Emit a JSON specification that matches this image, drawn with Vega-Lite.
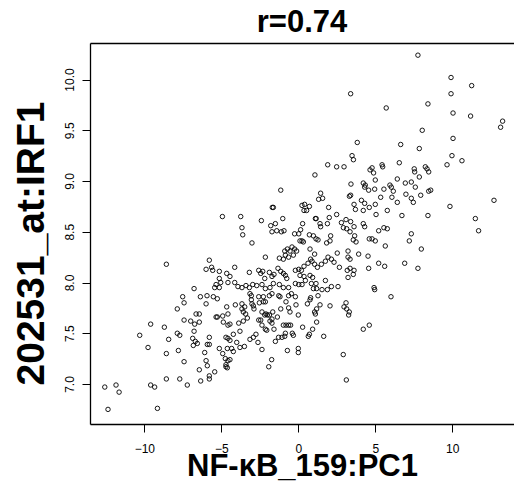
{
"$schema": "https://vega.github.io/schema/vega-lite/v6.json",
"width": 424, "height": 381,
"autosize": "none",
"padding": {"left": 90, "top": 43, "right": 0, "bottom": 63},
"background": "white",
"title": {"text": "r=0.74", "fontSize": 31, "font": "Liberation Sans", "fontWeight": "bold", "color": "black", "anchor": "middle", "offset": 4},
"data": {"values": [
{"x":1.91,"y":9.16},{"x":2.49,"y":9.14},{"x":2.97,"y":9.14},{"x":3.40,"y":9.86},{"x":3.83,"y":9.38},{"x":3.49,"y":9.25},{"x":3.58,"y":9.21},{"x":4.66,"y":9.11},
{"x":7.77,"y":10.24},{"x":9.92,"y":10.02},{"x":11.26,"y":9.94},{"x":9.92,"y":9.86},{"x":5.71,"y":9.72},{"x":8.42,"y":9.76},{"x":10.05,"y":9.67},{"x":11.19,"y":9.64},{"x":13.27,"y":9.59},{"x":13.14,"y":9.53},{"x":8.05,"y":9.50},{"x":10.05,"y":9.42},{"x":6.65,"y":9.36},{"x":7.86,"y":9.32},{"x":9.98,"y":9.25},{"x":10.63,"y":9.20},{"x":6.56,"y":9.18},{"x":5.44,"y":9.16},{"x":5.48,"y":9.14},{"x":4.79,"y":9.13},{"x":8.25,"y":9.14},{"x":8.36,"y":9.12},{"x":7.53,"y":9.12},{"x":9.66,"y":9.16},
{"x":4.89,"y":9.08},{"x":5.00,"y":9.01},{"x":4.96,"y":8.92},{"x":5.56,"y":8.92},{"x":6.04,"y":8.94},{"x":5.95,"y":8.96},{"x":6.43,"y":9.02},{"x":6.95,"y":8.98},{"x":7.34,"y":8.99},{"x":7.60,"y":8.94},{"x":7.86,"y":9.04},{"x":7.56,"y":9.09},{"x":8.47,"y":9.09},{"x":5.35,"y":8.84},{"x":6.08,"y":8.84},{"x":6.43,"y":8.79},{"x":6.17,"y":8.90},{"x":6.99,"y":8.87},{"x":7.34,"y":8.83},{"x":7.47,"y":8.79},{"x":7.95,"y":8.86},{"x":8.60,"y":8.91},{"x":8.47,"y":8.90},{"x":9.85,"y":8.75},{"x":12.71,"y":8.81},{"x":11.50,"y":8.63},{"x":11.71,"y":8.51},{"x":5.00,"y":8.77},{"x":5.05,"y":8.67},{"x":5.78,"y":8.71},{"x":6.73,"y":8.66},{"x":8.42,"y":8.66},{"x":5.22,"y":8.51},{"x":5.56,"y":8.54},{"x":5.78,"y":8.53},{"x":4.79,"y":8.43},{"x":5.00,"y":8.41},{"x":7.34,"y":8.48},{"x":7.21,"y":8.41},{"x":7.99,"y":8.33},{"x":5.65,"y":8.36},{"x":5.22,"y":8.19},{"x":5.61,"y":8.16},{"x":6.91,"y":8.19},{"x":7.77,"y":8.14},{"x":4.92,"y":7.95},{"x":4.96,"y":7.93},{"x":6.02,"y":7.86},
{"x":1.08,"y":9.06},{"x":3.42,"y":8.97},{"x":4.22,"y":8.98},{"x":4.35,"y":8.96},{"x":4.31,"y":8.94},{"x":4.57,"y":8.91},{"x":-1.14,"y":8.91},{"x":1.45,"y":8.88},{"x":1.32,"y":8.82},{"x":1.58,"y":8.83},{"x":3.32,"y":8.85},{"x":3.40,"y":8.86},{"x":3.62,"y":8.77},{"x":4.10,"y":8.81},{"x":4.31,"y":8.78},{"x":-1.69,"y":8.74},{"x":-1.62,"y":8.74},{"x":0.24,"y":8.76},{"x":0.41,"y":8.77},{"x":0.72,"y":8.75},{"x":0.37,"y":8.71},{"x":0.54,"y":8.71},{"x":1.97,"y":8.74},{"x":3.71,"y":8.72},{"x":4.22,"y":8.71},{"x":4.61,"y":8.74},{"x":2.49,"y":8.67},{"x":2.01,"y":8.64},{"x":-3.74,"y":8.65},{"x":-2.40,"y":8.61},{"x":-1.01,"y":8.63},{"x":1.11,"y":8.63},{"x":1.16,"y":8.63},{"x":1.41,"y":8.58},{"x":1.45,"y":8.55},{"x":2.80,"y":8.59},{"x":3.10,"y":8.62},{"x":3.40,"y":8.60},{"x":-1.49,"y":8.58},{"x":-1.79,"y":8.56},{"x":0.28,"y":8.58},{"x":2.93,"y":8.54},{"x":3.14,"y":8.53},{"x":3.62,"y":8.55},{"x":-3.66,"y":8.54},{"x":4.22,"y":8.58},{"x":4.31,"y":8.55},{"x":1.89,"y":8.58},{"x":-3.61,"y":8.47},{"x":-1.71,"y":8.50},{"x":-1.40,"y":8.51},{"x":-1.10,"y":8.50},{"x":-0.93,"y":8.51},{"x":-0.24,"y":8.48},{"x":0.03,"y":8.48},{"x":0.15,"y":8.52},{"x":0.72,"y":8.47},{"x":0.98,"y":8.46},{"x":1.15,"y":8.43},{"x":1.28,"y":8.42},{"x":2.10,"y":8.46},{"x":3.36,"y":8.50},{"x":3.66,"y":8.46},{"x":3.57,"y":8.42},{"x":3.75,"y":8.40},{"x":4.61,"y":8.43},{"x":0.24,"y":8.41},{"x":0.33,"y":8.40},{"x":0.11,"y":8.41},{"x":2.06,"y":8.41},{"x":1.84,"y":8.39},{"x":-3.01,"y":8.39},{"x":-0.41,"y":8.35},{"x":-0.24,"y":8.33},{"x":-0.11,"y":8.31},{"x":-0.71,"y":8.33},{"x":-0.54,"y":8.31},{"x":-0.88,"y":8.31},{"x":0.76,"y":8.33},{"x":3.23,"y":8.31},{"x":3.92,"y":8.28},{"x":-0.32,"y":8.27},{"x":-0.63,"y":8.25},{"x":-0.97,"y":8.23},{"x":-1.23,"y":8.24},{"x":-0.84,"y":8.27},{"x":1.06,"y":8.28},{"x":0.80,"y":8.23},{"x":-2.14,"y":8.25},{"x":2.53,"y":8.29},{"x":3.23,"y":8.25},{"x":3.36,"y":8.23},{"x":4.53,"y":8.26},{"x":-4.13,"y":8.15},{"x":-1.32,"y":8.14},{"x":-1.14,"y":8.11},{"x":-0.19,"y":8.12},{"x":0.03,"y":8.13},{"x":0.20,"y":8.12},{"x":0.37,"y":8.16},{"x":0.63,"y":8.19},{"x":0.89,"y":8.21},{"x":1.06,"y":8.18},{"x":1.24,"y":8.15},{"x":1.50,"y":8.18},{"x":1.76,"y":8.21},{"x":1.93,"y":8.25},{"x":2.15,"y":8.23},{"x":2.32,"y":8.20},{"x":2.67,"y":8.15},{"x":3.62,"y":8.12},{"x":4.57,"y":8.14},{"x":3.36,"y":8.14},{"x":3.18,"y":8.12},{"x":-3.18,"y":8.10},{"x":-2.57,"y":8.12},{"x":-2.31,"y":8.11},{"x":-1.88,"y":8.10},{"x":-1.58,"y":8.08},{"x":-1.71,"y":8.06},{"x":-2.18,"y":8.04},{"x":-2.44,"y":8.09},{"x":-0.97,"y":8.09},{"x":-0.84,"y":8.07},{"x":-0.75,"y":8.04},{"x":0.11,"y":8.07},{"x":0.37,"y":8.06},{"x":0.76,"y":8.07},{"x":0.93,"y":8.05},{"x":0.46,"y":8.02},{"x":0.85,"y":7.99},{"x":-4.44,"y":8.06},{"x":-4.13,"y":8.00},{"x":-3.92,"y":7.96},{"x":-3.66,"y":7.95},{"x":-3.40,"y":7.97},{"x":-3.18,"y":7.95},{"x":-2.96,"y":7.98},{"x":-2.70,"y":7.97},{"x":-2.36,"y":7.98},{"x":-2.14,"y":7.94},{"x":-1.84,"y":7.95},{"x":-1.62,"y":7.99},{"x":-1.23,"y":7.98},{"x":-0.97,"y":7.95},{"x":-0.63,"y":7.95},{"x":-0.19,"y":7.99},{"x":0.03,"y":7.98},{"x":0.24,"y":7.98},{"x":0.98,"y":7.94},{"x":1.15,"y":7.99},{"x":1.19,"y":7.94},{"x":1.76,"y":8.02},{"x":1.89,"y":7.93},{"x":2.15,"y":7.96},{"x":2.58,"y":7.96},{"x":3.23,"y":8.05},{"x":3.57,"y":8.08},{"x":-3.14,"y":7.89},{"x":-3.05,"y":7.87},{"x":-2.57,"y":7.86},{"x":-2.27,"y":7.86},{"x":-1.88,"y":7.87},{"x":-1.71,"y":7.89},{"x":-1.27,"y":7.87},{"x":-1.19,"y":7.86},{"x":-0.63,"y":7.87},{"x":-0.45,"y":7.89},{"x":-0.19,"y":7.86},{"x":0.80,"y":7.85},{"x":1.28,"y":7.87},{"x":1.54,"y":7.93},
{"x":-4.93,"y":8.65},{"x":-8.57,"y":8.18},{"x":-5.78,"y":8.22},{"x":-5.99,"y":8.13},{"x":-5.63,"y":8.15},{"x":-5.56,"y":8.12},{"x":-5.13,"y":8.11},{"x":-4.65,"y":8.09},{"x":-5.13,"y":8.04},{"x":-5.04,"y":8.00},{"x":-4.57,"y":8.00},{"x":-5.34,"y":7.98},{"x":-5.43,"y":7.95},{"x":-5.13,"y":7.95},{"x":-6.77,"y":7.94},{"x":-7.51,"y":7.86},{"x":-6.36,"y":7.86},{"x":-5.93,"y":7.87},{"x":-5.52,"y":7.86},{"x":-5.26,"y":7.84},
{"x":-7.42,"y":7.80},{"x":-7.86,"y":7.74},{"x":-5.99,"y":7.79},{"x":-4.65,"y":7.76},{"x":-6.64,"y":7.69},{"x":-6.43,"y":7.69},{"x":-5.34,"y":7.66},{"x":-5.26,"y":7.66},{"x":-4.91,"y":7.67},{"x":-4.57,"y":7.69},{"x":-7.42,"y":7.63},{"x":-6.99,"y":7.62},{"x":-6.73,"y":7.59},{"x":-6.43,"y":7.61},{"x":-4.87,"y":7.61},{"x":-4.57,"y":7.58},{"x":-9.59,"y":7.59},{"x":-8.70,"y":7.56},{"x":-10.30,"y":7.48},{"x":-7.86,"y":7.50},{"x":-7.70,"y":7.48},{"x":-6.77,"y":7.52},{"x":-8.42,"y":7.44},{"x":-6.86,"y":7.45},{"x":-6.69,"y":7.42},{"x":-6.82,"y":7.38},{"x":-6.56,"y":7.40},{"x":-5.78,"y":7.46},{"x":-5.91,"y":7.39},{"x":-5.78,"y":7.39},{"x":-4.70,"y":7.46},{"x":-4.57,"y":7.45},{"x":-9.76,"y":7.36},{"x":-7.79,"y":7.33},{"x":-8.57,"y":7.30},{"x":-5.13,"y":7.35},{"x":-4.61,"y":7.35},{"x":-6.08,"y":7.31},{"x":-4.91,"y":7.30},{"x":-5.99,"y":7.23},{"x":-4.74,"y":7.25},{"x":-4.57,"y":7.23},{"x":-7.42,"y":7.22},{"x":-5.91,"y":7.18},{"x":-4.70,"y":7.19},{"x":-4.70,"y":7.17},{"x":-4.61,"y":7.16},{"x":-6.43,"y":7.14},{"x":-5.43,"y":7.12},{"x":-5.78,"y":7.08},{"x":-5.78,"y":7.05},{"x":-8.57,"y":7.05},{"x":-7.70,"y":7.05},{"x":-6.34,"y":7.03},{"x":-7.21,"y":6.99},{"x":-9.59,"y":6.99},{"x":-9.33,"y":6.97},{"x":-12.57,"y":6.97},{"x":-11.84,"y":6.99},{"x":-11.64,"y":6.92},{"x":-12.36,"y":6.75},{"x":-9.15,"y":6.76},
{"x":3.12,"y":7.04},{"x":2.92,"y":7.29},{"x":-1.92,"y":7.17},{"x":-1.73,"y":7.24},{"x":-0.71,"y":7.33},{"x":0.00,"y":7.35},{"x":0.00,"y":7.31},{"x":-2.36,"y":7.34},{"x":4.22,"y":7.54},{"x":4.61,"y":7.58},{"x":1.65,"y":7.47},{"x":0.65,"y":7.47},{"x":0.72,"y":7.49},{"x":0.28,"y":7.56},{"x":0.93,"y":7.54},{"x":-0.39,"y":7.50},{"x":-0.32,"y":7.48},{"x":-0.84,"y":7.50},{"x":-1.06,"y":7.46},{"x":-1.28,"y":7.46},{"x":-1.49,"y":7.42},{"x":-0.97,"y":7.58},{"x":-0.80,"y":7.58},{"x":-0.63,"y":7.58},{"x":-0.50,"y":7.58},{"x":1.19,"y":7.61},{"x":-2.14,"y":7.54},{"x":-2.05,"y":7.53},{"x":-1.58,"y":7.54},{"x":-1.84,"y":7.62},{"x":-1.71,"y":7.60},{"x":-2.36,"y":7.58},{"x":-2.44,"y":7.63},{"x":-2.75,"y":7.49},{"x":-2.92,"y":7.46},{"x":-3.14,"y":7.44},{"x":-2.62,"y":7.41},{"x":-3.50,"y":7.37},{"x":-3.79,"y":7.36},{"x":-4.00,"y":7.41},{"x":-4.22,"y":7.32},{"x":-4.44,"y":7.24},{"x":-3.79,"y":7.52},{"x":-4.22,"y":7.49},{"x":-4.44,"y":7.43},{"x":-4.33,"y":7.35},{"x":-3.87,"y":7.60},{"x":-3.57,"y":7.62},{"x":-4.44,"y":7.59},{"x":-3.31,"y":7.65},{"x":-3.42,"y":7.69},{"x":-3.57,"y":7.71},{"x":-3.66,"y":7.74},{"x":-4.09,"y":7.78},{"x":-3.66,"y":7.79},{"x":-3.48,"y":7.76},{"x":-3.01,"y":7.79},{"x":-2.92,"y":7.77},{"x":-2.88,"y":7.74},{"x":-3.05,"y":7.83},{"x":-2.53,"y":7.80},{"x":-2.27,"y":7.81},{"x":-2.14,"y":7.81},{"x":-2.36,"y":7.71},{"x":-2.18,"y":7.68},{"x":-2.10,"y":7.69},{"x":-2.01,"y":7.68},{"x":-1.88,"y":7.68},{"x":-1.66,"y":7.71},{"x":-1.36,"y":7.66},{"x":-1.71,"y":7.64},{"x":-2.57,"y":7.63},{"x":-1.14,"y":7.74},{"x":-0.63,"y":7.75},{"x":-0.54,"y":7.71},{"x":-0.80,"y":7.81},{"x":-0.15,"y":7.78},{"x":0.00,"y":7.68},{"x":0.59,"y":7.79},{"x":0.76,"y":7.83},{"x":1.41,"y":7.78},{"x":2.06,"y":7.77},{"x":1.11,"y":7.69},{"x":1.19,"y":7.74},{"x":1.06,"y":7.71},{"x":3.10,"y":7.80},{"x":2.97,"y":7.76},{"x":3.14,"y":7.74},{"x":3.27,"y":7.68},{"x":3.31,"y":7.71},{"x":-0.88,"y":7.47}
]},
"layer": [
{"mark": {"type": "point", "filled": false, "stroke": "black", "strokeWidth": 0.9, "size": 20, "opacity": 1},
 "encoding": {
  "x": {"field": "x", "type": "quantitative", "scale": {"domain": [-13.53, 14.01], "nice": false, "zero": false},
   "axis": {"values": [-10,-5,0,5,10], "title": "NF-κB_159:PC1", "titleFont": "Liberation Sans", "titleFontSize": 31, "titleFontWeight": "bold", "titleColor": "black", "labelFont": "Liberation Sans", "labelFontSize": 12, "labelColor": "black", "tickSize": 8, "tickColor": "black", "tickWidth": 1, "domainColor": "black", "domainWidth": 1.3, "labelPadding": 11, "titlePadding": -3, "grid": false, "labelFlush": false}},
  "y": {"field": "y", "type": "quantitative", "scale": {"domain": [6.606, 10.36], "nice": false, "zero": false},
   "axis": {"values": [7,7.5,8,8.5,9,9.5,10], "format": ".1f", "title": "202531_at:IRF1", "titleFont": "Liberation Sans", "titleFontSize": 39, "titleFontWeight": "bold", "titleColor": "black", "titleY": 200, "labelFont": "Liberation Sans", "labelFontSize": 12, "labelColor": "black", "labelAngle": 270, "labelAlign": "center", "labelBaseline": "bottom", "tickSize": 8, "tickColor": "black", "tickWidth": 1, "domainColor": "black", "domainWidth": 1.3, "labelPadding": 6, "titlePadding": 12, "grid": false, "labelFlush": false}}
 }},
{"mark": {"type": "point", "opacity": 0},
 "encoding": {"x": {"field": "x", "type": "quantitative", "axis": {"orient": "top", "labels": false, "ticks": false, "title": null, "domain": true, "domainColor": "black", "domainWidth": 1.3, "grid": false}}}}
],
"resolve": {"axis": {"x": "independent"}},
"config": {"view": {"stroke": null}, "axis": {"grid": false}}
}
